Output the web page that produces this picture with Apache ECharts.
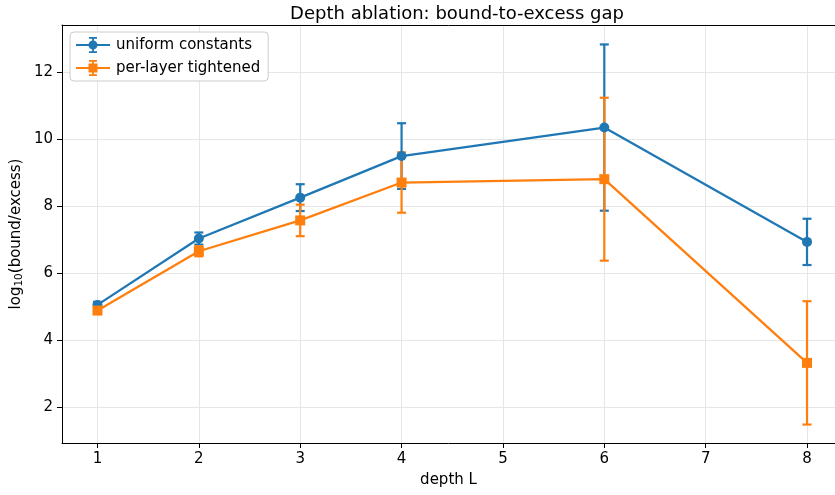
<!DOCTYPE html>
<html>
<head>
<meta charset="utf-8">
<script src="https://cdn.jsdelivr.net/npm/echarts@6/dist/echarts.min.js"></script>
<style>html,body{margin:0;padding:0;background:#fff}#c{width:835px;height:495px}</style>
</head>
<body>
<div id="c"></div>
<script>
const depths = [1, 2, 3, 4, 6, 8];
const uniformMean = [5.05, 7.03, 8.25, 9.49, 10.34, 6.93];
const uniformErr = [0.09, 0.18, 0.40, 0.98, 2.48, 0.69];
const tightMean = [4.88, 6.65, 7.57, 8.70, 8.80, 3.32];
const tightErr = [0.08, 0.15, 0.47, 0.90, 2.43, 1.84];
const xTicks = [1, 2, 3, 4, 5, 6, 7, 8];
const yTicks = [2, 4, 6, 8, 10, 12];
const seriesNames = ['uniform constants', 'per-layer tightened'];

const BLUE = '#1f77b4', ORANGE = '#ff7f0e';
const FONT = 'DejaVu Sans';

// legend glyphs: line + error bar with caps + marker
const ICON_BASE = 'M0 7.1h34v1.8h-34Z M16.1 0h1.8v16h-1.8Z M13 0h8v1.8h-8Z M13 14.2h8v1.8h-8Z ';
const ICON_CIRCLE = 'path://' + ICON_BASE + 'M21.5 8A4.5 4.5 0 1 1 12.5 8A4.5 4.5 0 1 1 21.5 8Z';
const ICON_SQUARE = 'path://' + ICON_BASE + 'M12.5 3.5h9v9h-9Z';

function errData(mean, err) {
  return depths.map((d, i) => [d, mean[i] - err[i], mean[i] + err[i]]);
}
function errSeries(mean, err, color) {
  return {
    type: 'custom',
    z: 1,
    silent: true,
    data: errData(mean, err),
    encode: { x: 0, y: [1, 2] },
    renderItem: function (params, api) {
      const x = api.value(0);
      const top = api.coord([x, api.value(2)]);
      const bot = api.coord([x, api.value(1)]);
      const c = 4.5;
      const st = { stroke: color, lineWidth: 2.2 };
      return {
        type: 'group',
        children: [
          { type: 'line', shape: { x1: top[0], y1: top[1], x2: bot[0], y2: bot[1] }, style: st },
          { type: 'line', shape: { x1: top[0] - c, y1: top[1], x2: top[0] + c, y2: top[1] }, style: st },
          { type: 'line', shape: { x1: bot[0] - c, y1: bot[1], x2: bot[0] + c, y2: bot[1] }, style: st }
        ]
      };
    }
  };
}

const chart = echarts.init(document.getElementById('c'), null, { renderer: 'canvas' });
chart.setOption({
  animation: false,
  backgroundColor: '#fff',
  textStyle: { fontFamily: FONT },
  title: {
    text: 'Depth ablation: bound-to-excess gap',
    left: 452, top: 0, textAlign: 'center',
    textStyle: { fontFamily: FONT, fontSize: 18, fontWeight: 'normal', color: '#000' }
  },
  legend: {
    data: [
      { name: seriesNames[0], icon: ICON_CIRCLE },
      { name: seriesNames[1], icon: ICON_SQUARE }
    ],
    orient: 'vertical',
    left: 70, top: 32,
    padding: [5, 8, 5, 6],
    itemWidth: 36, itemHeight: 16, itemGap: 7,
    backgroundColor: '#fff',
    borderColor: '#ccc', borderWidth: 1, borderRadius: 4,
    textStyle: { fontFamily: FONT, fontSize: 15, color: '#000' }
  },
  grid: {
    left: 62, right: 0, top: 25, bottom: 52,
    show: false, containLabel: false, outerBoundsMode: 'none'
  },
  xAxis: [{
    type: 'value',
    min: 0.65, max: 8.276,
    name: 'depth L', nameLocation: 'middle', nameGap: 30, nameMoveOverlap: false,
    nameTextStyle: { fontFamily: FONT, fontSize: 15, color: '#000' },
    axisLine: { show: true, lineStyle: { color: '#000', width: 1 } },
    axisTick: { show: true, length: 5, lineStyle: { color: '#000' }, customValues: xTicks },
    axisLabel: { customValues: xTicks, margin: 9, fontFamily: FONT, fontSize: 15, color: '#000' },
    splitLine: { show: true, lineStyle: { color: '#e6e6e6', width: 1 } }
  }, {
    type: 'value', position: 'top',
    min: 0.65, max: 8.276,
    axisLine: { show: true, onZero: false, lineStyle: { color: '#000', width: 1 } },
    axisTick: { show: false }, axisLabel: { show: false }, splitLine: { show: false }
  }],
  yAxis: {
    type: 'value',
    min: 0.93, max: 13.4,
    name: '{a|log}{b|10}{a|(bound/excess)}', nameLocation: 'middle', nameGap: 37, nameRotate: 90,
    nameMoveOverlap: false,
    nameTextStyle: {
      fontFamily: FONT, fontSize: 15, color: '#000',
      rich: {
        a: { fontFamily: FONT, fontSize: 15, color: '#000', lineHeight: 18, verticalAlign: 'middle' },
        b: { fontFamily: FONT, fontSize: 10.5, color: '#000', lineHeight: 18, verticalAlign: 'bottom', padding: [6, 0, 0, 0] }
      }
    },
    axisLine: { show: true, lineStyle: { color: '#000', width: 1 } },
    axisTick: { show: true, length: 5, lineStyle: { color: '#000' }, customValues: yTicks },
    axisLabel: { customValues: yTicks, margin: 9, fontFamily: FONT, fontSize: 15, color: '#000' },
    splitLine: { show: true, lineStyle: { color: '#e6e6e6', width: 1 } }
  },
  series: [
    errSeries(uniformMean, uniformErr, BLUE),
    errSeries(tightMean, tightErr, ORANGE),
    {
      name: seriesNames[0], type: 'line', z: 3,
      data: depths.map((d, i) => [d, uniformMean[i]]),
      symbol: 'circle', symbolSize: 10, showAllSymbol: true,
      lineStyle: { color: BLUE, width: 2.3 },
      itemStyle: { color: BLUE }
    },
    {
      name: seriesNames[1], type: 'line', z: 3,
      data: depths.map((d, i) => [d, tightMean[i]]),
      symbol: 'rect', symbolSize: 10, showAllSymbol: true,
      lineStyle: { color: ORANGE, width: 2.3 },
      itemStyle: { color: ORANGE }
    }
  ]
});
</script>
</body>
</html>
